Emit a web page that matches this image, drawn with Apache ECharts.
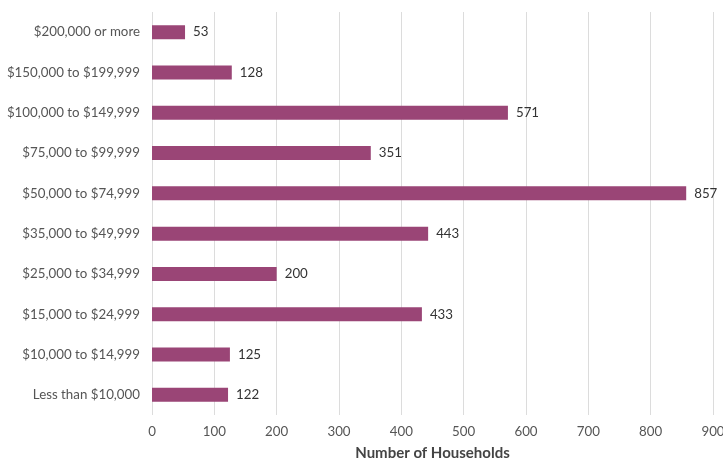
<!DOCTYPE html>
<html><head><meta charset="utf-8">
<script src="https://cdn.jsdelivr.net/npm/echarts@6/dist/echarts.min.js"></script>
<style>html,body{margin:0;padding:0;background:#fff}#c{width:723px;height:462px}</style>
</head><body><div id="c"></div>
<script>
const categories = ["Less than $10,000","$10,000 to $14,999","$15,000 to $24,999","$25,000 to $34,999","$35,000 to $49,999","$50,000 to $74,999","$75,000 to $99,999","$100,000 to $149,999","$150,000 to $199,999","$200,000 or more"];
const households = [122,125,433,200,443,857,351,571,128,53];
const xTicks = {min:0,max:900,interval:100};
const chart = echarts.init(document.getElementById('c'));
chart.setOption({
  animation:false,
  textStyle:{fontFamily:'Lato'},
  grid:{left:152,right:10,top:12,bottom:47,containLabel:false,outerBoundsMode:'none'},
  xAxis:{type:'value',min:xTicks.min,max:xTicks.max,interval:xTicks.interval,
    name:'Number of Households',nameLocation:'middle',nameGap:31,
    nameTextStyle:{fontFamily:'Lato',fontWeight:'bold',fontSize:15,color:'#444'},
    axisLine:{show:false},axisTick:{show:false},
    axisLabel:{color:'#555',fontSize:13.3,margin:10},
    splitLine:{lineStyle:{color:'#dcdcdc',width:1}}},
  yAxis:{type:'category',data:categories,axisLine:{show:false},axisTick:{show:false},
    axisLabel:{color:'#555',fontSize:13.3,margin:12}},
  series:[{type:'bar',data:households,barWidth:14,
    itemStyle:{color:'#9a4576'},
    label:{show:true,position:'right',distance:8,color:'#333',fontSize:13.3}}]
});
</script></body></html>
